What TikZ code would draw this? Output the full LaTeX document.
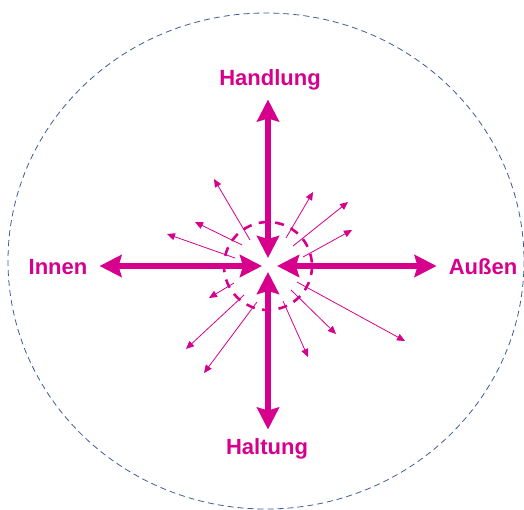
\documentclass[tikz,border=0pt]{standalone}
\usepackage{fontspec}
\setmainfont{Liberation Sans}
\usepackage{xcolor}
\usetikzlibrary{arrows.meta}
\definecolor{magenta}{RGB}{214,0,140}
\definecolor{rimblue}{RGB}{62,92,152}

\begin{document}
\begin{tikzpicture}[x=1pt, y=-1pt,
  label/.style={text=magenta, font=\fontsize{22}{26}\selectfont\bfseries,
    inner sep=0pt},
  bigarrow/.style={draw=magenta, line width=6pt,
    {Stealth[length=22pt, width=22pt, inset=3pt]}-{Stealth[length=22pt, width=22pt, inset=3pt]}},
  smallarrow/.style={draw=magenta, line width=0.8pt,
    -{Triangle[length=8pt, width=7pt]}},
]
  \useasboundingbox (0,0) rectangle (524,509);

  % Outer dashed ellipse
  \draw[rimblue, line width=0.8pt, dash pattern=on 6pt off 4pt]
    (266,261) ellipse [x radius=258, y radius=248];

  % Centre and inner dashed circle
  \coordinate (c) at (268,266);
  \draw[magenta, line width=2.6pt, dash pattern=on 9pt off 7.5pt]
    (c) circle [radius=44];

  % Labels
  \node[label] (handlung) at (270,80)  {Handlung};
  \node[label] (haltung)  at (267,449) {Haltung};
  \node[label] (innen)    at (58,267)  {Innen};
  \node[label] (aussen)   at (483,267) {Außen};

  % Main axes
  \draw[bigarrow, shorten <=9pt, shorten >=8pt] (handlung.south -| c) -- (c);
  \draw[bigarrow, shorten <=9pt, shorten >=6pt] (haltung.north -| c) -- (c);
  \draw[bigarrow, shorten <=12pt, shorten >=6pt] (innen.east |- c) -- (c);
  \draw[bigarrow, shorten <=12pt, shorten >=9pt] (aussen.west |- c) -- (c);

  % Small rays
  \foreach \i/\sx/\sy/\ex/\ey in {
      1/250/240/214/179, 2/242/245/195/222, 3/235/258/167/234,
      4/286/238/313/192, 5/293/246/348/202, 6/303/257/352/230,
      7/234/283/209/298, 8/244/295/186/349, 9/257/302/204/373,
      10/283/301/308/357, 11/291/290/336/334, 12/297/282/405/341} {
    \coordinate (s\i) at (\sx,\sy);
    \coordinate (e\i) at (\ex,\ey);
    \draw[smallarrow] (s\i) -- (e\i);
  }
\end{tikzpicture}
\end{document}
